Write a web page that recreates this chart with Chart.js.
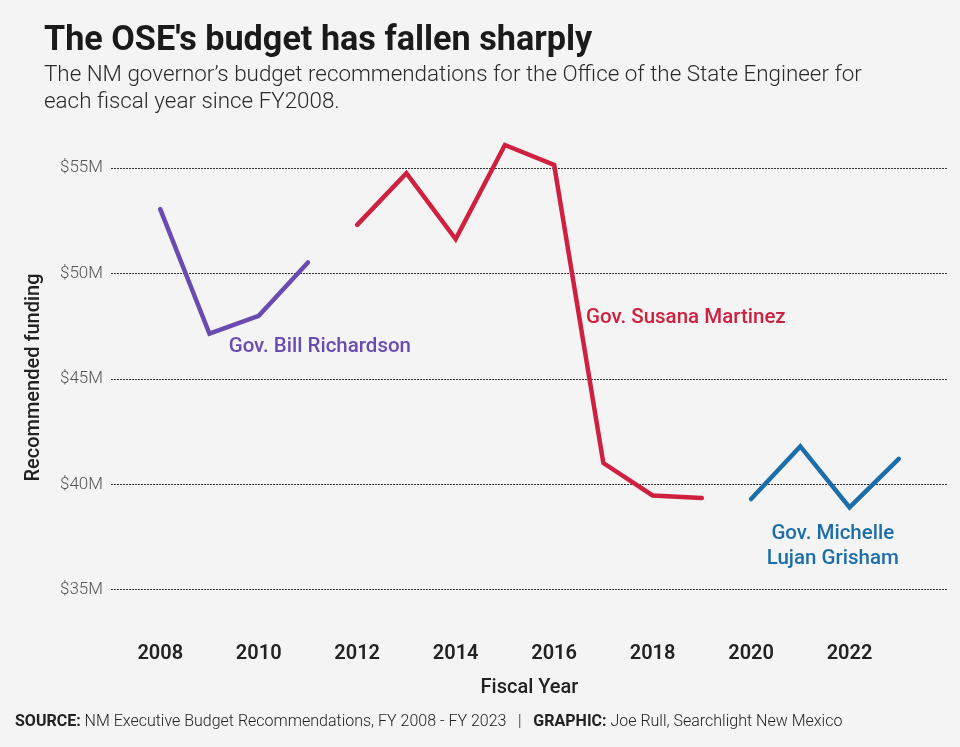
<!DOCTYPE html>
<html>
<head>
<meta charset="utf-8">
<script src="https://cdn.jsdelivr.net/npm/chart.js@4/dist/chart.umd.min.js"></script>
<style>
  html, body { margin: 0; padding: 0; background: #f4f4f4; }
  #wrap { position: relative; width: 960px; height: 747px; overflow: hidden; background: #f4f4f4; font-family: Roboto, sans-serif; }
  #c { position: absolute; left: 0; top: 0; }
  .title { position: absolute; left: 44px; top: 18px; font-size: 34.2px; font-weight: 700; color: #1a1a1a; white-space: nowrap; }
  .subtitle { position: absolute; left: 44px; top: 60px; width: 900px; font-size: 22.4px; font-weight: 300; line-height: 27px; color: #2a2a2a; white-space: nowrap; }
  .source { position: absolute; left: 15px; top: 711px; font-size: 16px; font-weight: 300; color: #222; white-space: nowrap; }
  .source b { font-weight: 700; }
</style>
</head>
<body>
<div id="wrap">
  <canvas id="c" width="960" height="747"></canvas>
  <div class="title">The OSE's budget has fallen sharply</div>
  <div class="subtitle">The NM governor’s budget recommendations for the Office of the State Engineer for<br>each fiscal year since FY2008.</div>
  <div class="source"><b>SOURCE:</b> NM Executive Budget Recommendations, FY 2008 - FY 2023 &nbsp;&nbsp;|&nbsp;&nbsp; <b>GRAPHIC:</b> Joe Rull, Searchlight New Mexico</div>
</div>
<script>
// ---- Data (millions of dollars) ----
const richardsonYears = [2008, 2009, 2010, 2011];
const richardsonValues = [53.06, 47.15, 48.0, 50.53];
const martinezYears = [2012, 2013, 2014, 2015, 2016, 2017, 2018, 2019];
const martinezValues = [52.31, 54.76, 51.64, 56.1, 55.16, 41.02, 39.48, 39.36];
const grishamYears = [2020, 2021, 2022, 2023];
const grishamValues = [39.31, 41.81, 38.92, 41.22];
const xTickYears = [2008, 2010, 2012, 2014, 2016, 2018, 2020, 2022];
const yTickValues = [35, 40, 45, 50, 55];
const governorLabels = ['Gov. Bill Richardson', 'Gov. Susana Martinez', ['Gov. Michelle', 'Lujan Grisham']];

const toPoints = (xs, ys) => xs.map((x, i) => ({ x: x, y: ys[i] }));

const PURPLE = '#6a4cb0', RED = '#d0203f', BLUE = '#1c6ea8';

const labelPlugin = {
  id: 'govLabels',
  afterDatasetsDraw(chart) {
    const { ctx, scales: { x, y } } = chart;
    const items = [
      { text: governorLabels[0], px: 2009.39, py: 46.53, color: PURPLE, align: 'left' },
      { text: governorLabels[1], px: 2016.65, py: 47.88, color: RED, align: 'left' },
      { text: governorLabels[2], px: 2021.66, py: 37.66, color: BLUE, align: 'center' }
    ];
    ctx.save();
    ctx.font = '500 20.5px Roboto';
    ctx.textBaseline = 'middle';
    items.forEach(it => {
      ctx.fillStyle = it.color;
      ctx.textAlign = it.align;
      const lines = Array.isArray(it.text) ? it.text : [it.text];
      const X = x.getPixelForValue(it.px);
      const Y = y.getPixelForValue(it.py);
      lines.forEach((t, i) => ctx.fillText(t, X, Y + i * 25));
    });
    ctx.restore();
  }
};

Chart.defaults.font.family = 'Roboto, sans-serif';

const lineStyle = {
  borderWidth: 4.5,
  pointRadius: 0,
  pointHoverRadius: 0,
  tension: 0,
  borderJoinStyle: 'miter',
  borderCapStyle: 'round',
  fill: false,
  clip: false
};

new Chart(document.getElementById('c'), {
  type: 'line',
  data: {
    datasets: [
      Object.assign({ label: 'Gov. Bill Richardson', data: toPoints(richardsonYears, richardsonValues), borderColor: PURPLE, backgroundColor: PURPLE }, lineStyle),
      Object.assign({ label: 'Gov. Susana Martinez', data: toPoints(martinezYears, martinezValues), borderColor: RED, backgroundColor: RED }, lineStyle),
      Object.assign({ label: 'Gov. Michelle Lujan Grisham', data: toPoints(grishamYears, grishamValues), borderColor: BLUE, backgroundColor: BLUE }, lineStyle)
    ]
  },
  options: {
    responsive: false,
    maintainAspectRatio: false,
    animation: false,
    events: [],
    layout: { padding: { top: 126, right: 12, bottom: 46, left: 0 } },
    plugins: { legend: { display: false }, tooltip: { enabled: false }, title: { display: false } },
    scales: {
      x: {
        type: 'linear',
        min: 2007,
        max: 2024,
        border: { display: false },
        grid: { display: false, drawTicks: false },
        afterBuildTicks: s => { s.ticks = xTickYears.map(v => ({ value: v })); },
        afterFit: s => { s.height = 72; },
        ticks: {
          padding: 13,
          color: '#222',
          font: { size: 20, weight: '600' },
          callback: v => String(v),
          autoSkip: false,
          maxRotation: 0
        },
        title: {
          display: true,
          text: 'Fiscal Year',
          color: '#222',
          font: { size: 20, weight: '500' },
          padding: { top: 0, bottom: 1.5 }
        }
      },
      y: {
        min: 33.15,
        max: 57,
        border: { display: false, dash: [2, 1] },
        grid: { color: '#333', lineWidth: 1, drawTicks: false },
        afterBuildTicks: s => { s.ticks = yTickValues.map(v => ({ value: v })); },
        afterFit: s => { s.width = 111; },
        ticks: {
          padding: 8,
          color: '#555',
          font: { size: 17, weight: '300' },
          callback: v => '$' + v + 'M'
        },
        title: {
          display: true,
          text: 'Recommended funding',
          color: '#222',
          font: { size: 20, weight: '500' },
          padding: { top: 22, bottom: 0 }
        }
      }
    }
  },
  plugins: [labelPlugin]
});
</script>
</body>
</html>
